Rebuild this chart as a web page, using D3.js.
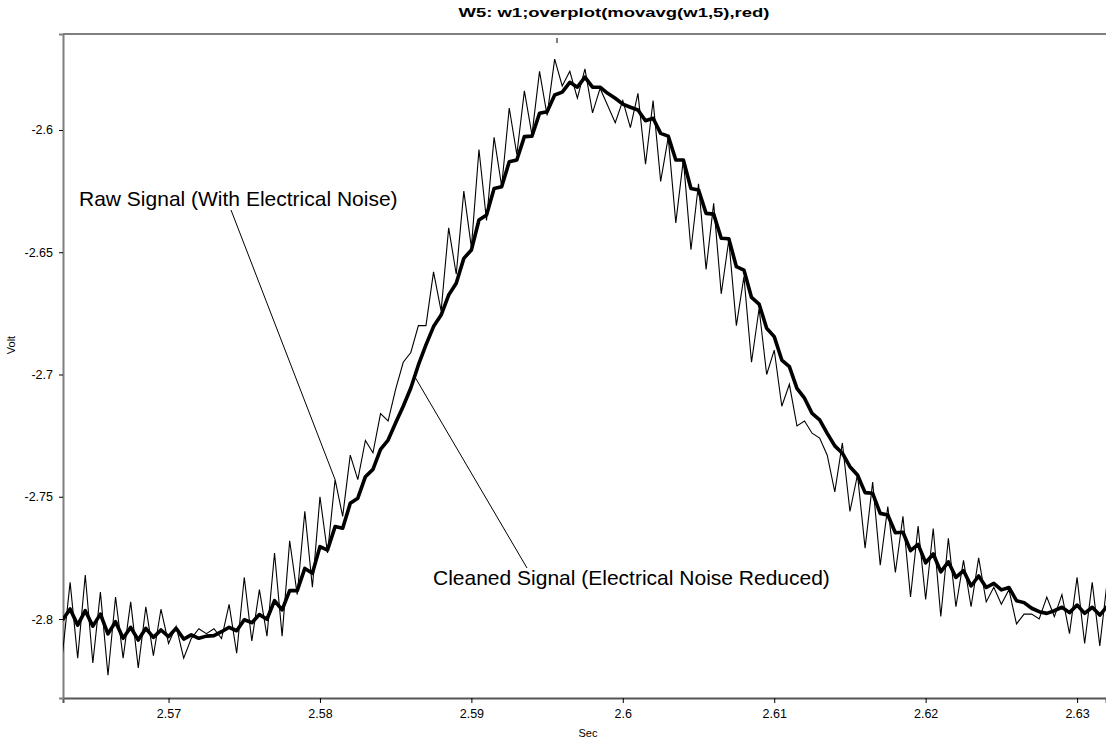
<!DOCTYPE html>
<html>
<head>
<meta charset="utf-8">
<script src="https://cdn.jsdelivr.net/npm/d3@7"></script>
<style>
  html, body { margin: 0; padding: 0; background: #fff; }
  svg { display: block; font-family: "Liberation Sans", Arial, sans-serif; }
</style>
</head>
<body>
<svg id="chart" width="1106" height="750"></svg>
<script>
// ---- data ----
const title = "W5: w1;overplot(movavg(w1,5),red)";
const xLabel = "Sec";
const yLabel = "Volt";
const startTime = 2.563;       // time of first sample (s)
const sampleStep = 0.0005;     // sampling interval (s)
const xTicks = [2.57, 2.58, 2.59, 2.6, 2.61, 2.62, 2.63];
const yTicks = [-2.6, -2.65, -2.7, -2.75, -2.8];

// raw signal w1 (with electrical noise)
const rawSignal = [
 -2.814,-2.785,-2.816,-2.782,-2.818,-2.789,-2.823,-2.791,-2.816,-2.793,
 -2.820,-2.795,-2.815,-2.796,-2.810,-2.803,-2.816,-2.808,-2.804,-2.806,
 -2.804,-2.808,-2.794,-2.814,-2.783,-2.809,-2.788,-2.807,-2.773,-2.807,
 -2.768,-2.790,-2.756,-2.787,-2.750,-2.773,-2.743,-2.758,-2.733,-2.743,
 -2.727,-2.732,-2.716,-2.719,-2.706,-2.695,-2.691,-2.680,-2.680,-2.658,
 -2.674,-2.640,-2.659,-2.625,-2.648,-2.608,-2.637,-2.603,-2.623,-2.591,
 -2.610,-2.584,-2.602,-2.576,-2.594,-2.571,-2.582,-2.576,-2.587,-2.575,
 -2.593,-2.583,-2.590,-2.597,-2.588,-2.599,-2.585,-2.614,-2.588,-2.621,
 -2.603,-2.638,-2.612,-2.649,-2.622,-2.657,-2.630,-2.667,-2.645,-2.680,
 -2.660,-2.695,-2.673,-2.700,-2.690,-2.713,-2.704,-2.721,-2.719,-2.724,
 -2.726,-2.733,-2.748,-2.728,-2.756,-2.741,-2.771,-2.744,-2.778,-2.754,
 -2.781,-2.758,-2.791,-2.762,-2.792,-2.763,-2.799,-2.767,-2.795,-2.776,
 -2.795,-2.775,-2.793,-2.787,-2.794,-2.788,-2.802,-2.798,-2.798,-2.800,
 -2.791,-2.799,-2.790,-2.806,-2.783,-2.810,-2.785,-2.811,-2.784
];

// cleaned signal movavg(w1,5)
const cleanSignal = [
 -2.8004,-2.7959,-2.8025,-2.7966,-2.8029,-2.7980,-2.8061,-2.8011,-2.8079,-2.8034,
 -2.8086,-2.8038,-2.8075,-2.8045,-2.8072,-2.8038,-2.8082,-2.8065,-2.8079,-2.8070,
 -2.8068,-2.8052,-2.8034,-2.8048,-2.8003,-2.8015,-2.7982,-2.8001,-2.7925,-2.7963,
 -2.7884,-2.7884,-2.7793,-2.7813,-2.7704,-2.7718,-2.7622,-2.7629,-2.7527,-2.7506,
 -2.7418,-2.7388,-2.7306,-2.7268,-2.7197,-2.7130,-2.7055,-2.6961,-2.6879,-2.6804,
 -2.6757,-2.6675,-2.6627,-2.6525,-2.6491,-2.6368,-2.6348,-2.6239,-2.6232,-2.6130,
 -2.6123,-2.6027,-2.6025,-2.5932,-2.5925,-2.5857,-2.5845,-2.5805,-2.5825,-2.5784,
 -2.5825,-2.5825,-2.5850,-2.5870,-2.5894,-2.5907,-2.5918,-2.5962,-2.5952,-2.6014,
 -2.6025,-2.6123,-2.6123,-2.6239,-2.6245,-2.6341,-2.6344,-2.6443,-2.6445,-2.6559,
 -2.6573,-2.6685,-2.6712,-2.6811,-2.6845,-2.6941,-2.6968,-2.7057,-2.7097,-2.7159,
 -2.7186,-2.7241,-2.7292,-2.7322,-2.7377,-2.7411,-2.7483,-2.7486,-2.7568,-2.7575,
 -2.7647,-2.7645,-2.7720,-2.7695,-2.7770,-2.7734,-2.7807,-2.7766,-2.7830,-2.7802,
 -2.7865,-2.7824,-2.7871,-2.7854,-2.7881,-2.7871,-2.7925,-2.7933,-2.7956,-2.7970,
 -2.7977,-2.7966,-2.7952,-2.7974,-2.7943,-2.7977,-2.7952,-2.7984,-2.7947
];

// annotations: text and the sample index each leader line points to
const annotations = [
  { text: "Raw Signal (With Electrical Noise)", series: "raw", index: 36 },
  { text: "Cleaned Signal (Electrical Noise Reduced)", series: "clean", index: 46.5 }
];

// ---- layout ----
const plot = { left: 63, right: 1106, top: 34, bottom: 698 };
const svg = d3.select("#chart");

const x = d3.scaleLinear().domain([2.56303, 2.63191]).range([plot.left, plot.right]);
const y = d3.scaleLinear().domain([-2.83231, -2.56074]).range([plot.bottom, plot.top]);
const tOf = i => startTime + i * sampleStep;
const fmt = d => String(d);

svg.append("defs").append("clipPath").attr("id", "clip")
  .append("rect").attr("x", plot.left).attr("y", plot.top)
  .attr("width", plot.right - plot.left).attr("height", plot.bottom - plot.top);

// frame
const frameColor = "#7f7f7f";
svg.append("line").attr("x1", plot.left).attr("x2", plot.right + 2)
  .attr("y1", plot.top).attr("y2", plot.top)
  .attr("stroke", frameColor).attr("stroke-width", 2);

// axes
const xAxis = d3.axisBottom(x).tickValues(xTicks).tickSize(5).tickPadding(6).tickFormat(fmt);
const gx = svg.append("g").attr("transform", `translate(0,${plot.bottom})`).call(xAxis);
gx.select(".domain").attr("stroke", "#555").attr("stroke-width", 2);
gx.selectAll(".tick line").attr("stroke", "#000");
gx.selectAll(".tick text").attr("font-size", 12.5).attr("fill", "#000")
  .attr("font-family", "Liberation Sans, Arial, sans-serif");

const yAxis = d3.axisLeft(y).tickValues(yTicks).tickSize(4).tickPadding(6).tickFormat(fmt);
const gy = svg.append("g").attr("transform", `translate(${plot.left},0)`).call(yAxis);
gy.select(".domain").attr("stroke", frameColor).attr("stroke-width", 2);
gy.selectAll(".tick line").attr("stroke", "#000");
gy.selectAll(".tick text").attr("font-size", 12.5).attr("fill", "#000")
  .attr("font-family", "Liberation Sans, Arial, sans-serif");

// small marker at the top of the plot
svg.append("line").attr("x1", 557).attr("x2", 557).attr("y1", plot.top + 4).attr("y2", plot.top + 9)
  .attr("stroke", "#000").attr("stroke-width", 1);

// title and axis labels
svg.append("text").attr("x", 614).attr("y", 17).attr("text-anchor", "middle")
  .attr("font-weight", "bold").attr("font-size", 12.5)
  .attr("textLength", 311).attr("lengthAdjust", "spacingAndGlyphs").text(title);
svg.append("text").attr("x", 588).attr("y", 737).attr("text-anchor", "middle")
  .attr("font-size", 11).text(xLabel);
svg.append("text").attr("transform", "translate(15,345) rotate(-90)").attr("text-anchor", "middle")
  .attr("font-size", 11).text(yLabel);

// lines
const line = d3.line().x((d, i) => x(tOf(i))).y(d => y(d)).curve(d3.curveLinear);
const g = svg.append("g").attr("clip-path", "url(#clip)");
g.append("path").datum(rawSignal).attr("d", line)
  .attr("fill", "none").attr("stroke", "#000").attr("stroke-width", 1.1).attr("stroke-linejoin", "miter");
g.append("path").datum(cleanSignal).attr("d", line)
  .attr("fill", "none").attr("stroke", "#000").attr("stroke-width", 3.6).attr("stroke-linejoin", "round");

// annotations
const rawIdx = annotations[0].index;
svg.append("line")
  .attr("x1", 231).attr("y1", 210)
  .attr("x2", x(tOf(rawIdx))).attr("y2", y(rawSignal[rawIdx]))
  .attr("stroke", "#000").attr("stroke-width", 1);
svg.append("text").attr("x", 79).attr("y", 206).attr("font-size", 21).text(annotations[0].text);

const ci = annotations[1].index;
const cleanVal = (cleanSignal[Math.floor(ci)] + cleanSignal[Math.ceil(ci)]) / 2;
svg.append("line")
  .attr("x1", x(tOf(ci))).attr("y1", y(cleanVal))
  .attr("x2", 527).attr("y2", 568)
  .attr("stroke", "#000").attr("stroke-width", 1);
svg.append("text").attr("x", 433).attr("y", 585).attr("font-size", 21).text(annotations[1].text);
</script>
</body>
</html>
